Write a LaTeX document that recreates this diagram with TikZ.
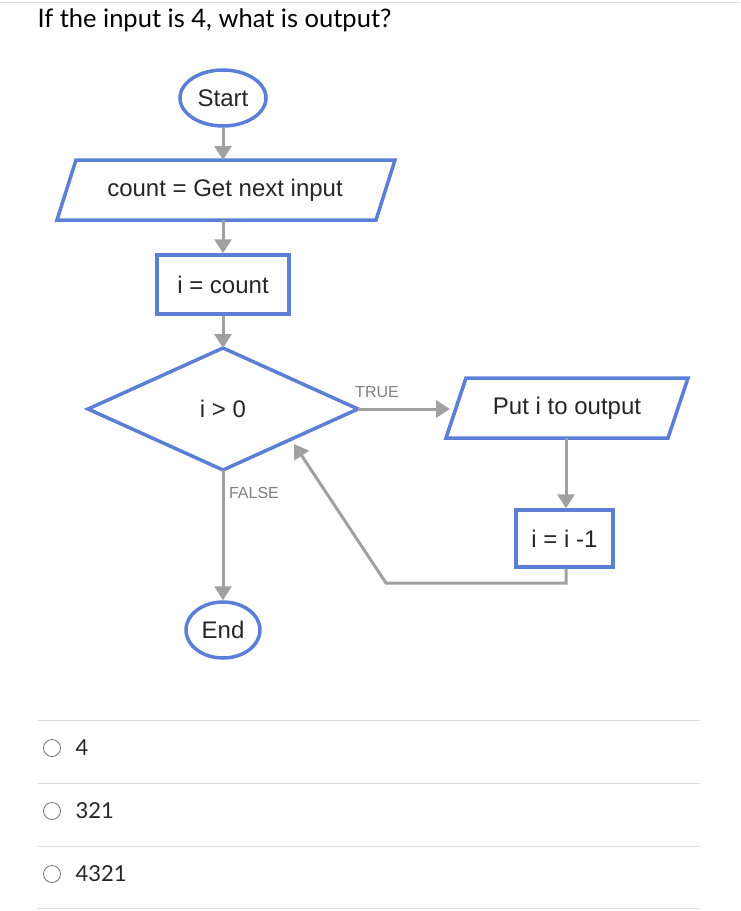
\documentclass[tikz,border=0pt]{standalone}
\usepackage{fontspec}
\setmainfont{Lato}
\newfontfamily\flow{Liberation Sans}
\usetikzlibrary{shapes.geometric,arrows.meta}
\definecolor{fb}{HTML}{5B7FD6}
\definecolor{ag}{HTML}{A0A0A0}
\definecolor{sep}{HTML}{DDDDDD}
\begin{document}
\begin{tikzpicture}[x=1pt,y=-1pt,
  blue/.style={draw=fb,line width=3.5pt,fill=white},
  lbl/.style={font=\flow\fontsize{24}{28}\selectfont,text=black!85},
  arr/.style={draw=ag,line width=3pt,-{Triangle[length=14pt,width=17pt]}},
  opt/.style={font=\fontsize{22}{26}\selectfont,anchor=west,text=black!85}]
\useasboundingbox (0,0) rectangle (740,911);
\draw[sep,line width=0.8pt] (0,2) -- (740,2);
\node[anchor=west,font=\fontsize{25.5}{30}\selectfont] (title) at (34,20) {If the input is 4, what is output?};
\node[blue,ellipse,minimum width=86pt,minimum height=56pt,lbl,inner sep=1pt] (start) at (223,98) {Start};
\draw[blue] (76,160) -- (395,160) -- (376,220) -- (57,220) -- cycle;
\node[lbl] (cnt) at (225,190) {count = Get next input};
\coordinate (cntT) at (223,160); \coordinate (cntB) at (223,220);
\node[blue,minimum width=132pt,minimum height=59pt,lbl] (ic) at (223,284.5) {i = count};
\draw[blue] (223,348) -- (358,409) -- (223,470) -- (88,409) -- cycle;
\node[lbl] (dia) at (223,409) {i > 0};
\coordinate (diaT) at (223,348); \coordinate (diaB) at (223,470); \coordinate (diaR) at (358,409);
\draw[blue] (466,378) -- (688,378) -- (668,438) -- (446,438) -- cycle;
\node[lbl] (put) at (567,408) {Put i to output};
\coordinate (putL) at (450,409); \coordinate (putB) at (566,438);
\node[blue,minimum width=97pt,minimum height=57pt,lbl] (dec) at (564.5,538.5) {i = i -1};
\node[blue,ellipse,minimum width=74pt,minimum height=56pt,lbl,inner sep=1pt] (end) at (223,630) {End};
\draw[arr] (start) -- (cntT);
\draw[arr] (cntB) -- (ic);
\draw[arr] (ic) -- (diaT);
\draw[arr] (diaR) -- (putL);
\draw[arr] (putB) -- (dec.north -| putB);
\draw[arr] (diaB) -- (end);
\coordinate (c1) at (566,583); \coordinate (c2) at (386,583); \coordinate (c3) at (294,444);
\draw[arr] (dec.south -| c1) -- (c1) -- (c2) -- (c3);
\node[font=\flow\fontsize{16}{18}\selectfont,text=ag!80!black] (t) at (377,392) {TRUE};
\node[font=\flow\fontsize{16}{18}\selectfont,text=ag!80!black] (f) at (254,493) {FALSE};
\foreach \y in {720,783,846,908} \draw[sep,line width=0.8pt] (38,\y) -- (700,\y);
\foreach \y/\t [count=\i] in {748/4,811/321,874/4321}{
  \draw[black!55,line width=0.8pt] (52,\y) circle (8.5);
  \node[opt] (o\i) at (72,\y) {\t};}
\end{tikzpicture}
\end{document}
